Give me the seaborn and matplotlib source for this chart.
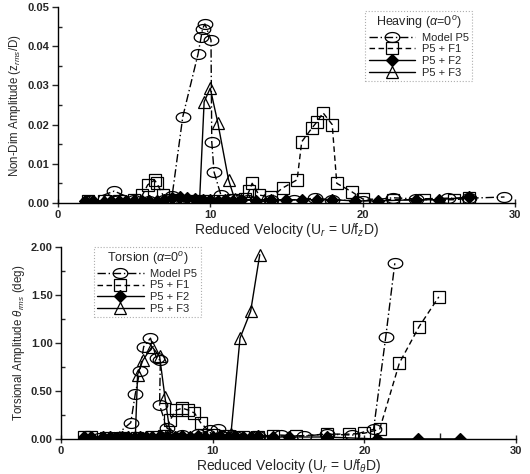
import matplotlib
matplotlib.use("Agg")
import matplotlib.pyplot as plt
import seaborn as sns
import numpy as np
from matplotlib.ticker import MultipleLocator, FormatStrFormatter

# ---------------- data: heaving (top) ----------------
heave_p5_x = [2.0, 3.7, 5.0, 6.0, 7.0, 7.5, 8.2, 9.2, 9.4, 9.5, 9.65, 10.05, 10.1, 10.25, 10.7, 11.5,
              12.5, 14.0, 15.5, 16.9, 18.0, 20.0, 22.0, 23.5, 25.6, 27.0, 29.3]
heave_p5_y = [0.0005, 0.003, 0.0008, 0.0006, 0.0008, 0.0018, 0.022, 0.038, 0.0423, 0.0445, 0.0457, 0.0416,
              0.0156, 0.0079, 0.002, 0.001, 0.0008, 0.0008, 0.0008, 0.0012, 0.0008, 0.0005, 0.0013, 0.001,
              0.0012, 0.0012, 0.0015]

heave_f1_x = [2.0, 3.0, 4.0, 5.0, 5.55, 5.9, 6.35, 6.5, 6.9, 7.5, 8.5, 9.5, 10.5, 11.5, 12.3, 12.55, 12.75,
              13.2, 14.0, 14.75, 15.7, 16.0, 16.65, 17.0, 17.4, 18.0, 18.3, 19.3, 20.0, 22.0, 24.0, 26.0, 27.0]
heave_f1_y = [0.0005, 0.0005, 0.0006, 0.0008, 0.002, 0.0046, 0.0058, 0.005, 0.002, 0.0008, 0.0006, 0.0005,
              0.0006, 0.0008, 0.001, 0.003, 0.005, 0.002, 0.0015, 0.0038, 0.0059, 0.0156, 0.019, 0.0207,
              0.023, 0.020, 0.005, 0.0028, 0.001, 0.0008, 0.0008, 0.0008, 0.0012]

heave_f2_x = [1.8, 2.3, 3.0, 3.5, 4.0, 4.5, 5.0, 5.5, 6.0, 6.5, 7.0, 7.5, 8.0, 8.5, 9.0, 9.5, 10.0, 10.5,
              11.0, 11.5, 12.0, 13.0, 14.0, 15.0, 16.0, 17.0, 18.0, 19.5, 21.0, 23.5, 25.0, 27.0]
heave_f2_y = [0.0005, 0.0004, 0.0003, 0.0005, 0.0004, 0.0005, 0.0004, 0.0005, 0.0006, 0.0005, 0.0008,
              0.0012, 0.0015, 0.0012, 0.001, 0.0008, 0.0008, 0.0006, 0.0008, 0.0006, 0.0008, 0.0006,
              0.0008, 0.0007, 0.0008, 0.0008, 0.0008, 0.0005, 0.0005, 0.0008, 0.0008, 0.0015]

heave_f3_x = [2.0, 3.0, 4.0, 5.0, 6.0, 7.0, 8.0, 9.0, 9.3, 9.6, 10.0, 10.5, 11.2, 11.6, 12.5, 13.5, 15.0]
heave_f3_y = [0.0005, 0.0004, 0.0005, 0.0004, 0.0005, 0.0005, 0.0006, 0.0005, 0.0005, 0.0258, 0.0293,
              0.0204, 0.0059, 0.001, 0.0008, 0.0008, 0.0008]

# ---------------- data: torsion (bottom) ----------------
tors_p5_x = [2.5, 3.5, 4.6, 4.9, 5.2, 5.45, 5.9, 6.3, 6.55, 6.5, 7.0, 8.0, 9.0, 9.8, 10.35, 11.5, 13.0,
             14.5, 16.0, 17.5, 19.2, 20.6, 21.4, 22.0]
tors_p5_y = [0.01, 0.02, 0.17, 0.47, 0.71, 0.96, 1.05, 0.84, 0.82, 0.35, 0.11, 0.04, 0.05, 0.09, 0.10,
             0.03, 0.03, 0.04, 0.03, 0.05, 0.04, 0.10, 1.06, 1.83]

tors_f1_x = [1.5, 2.0, 3.0, 4.0, 5.0, 6.0, 6.8, 7.2, 7.6, 8.0, 8.4, 8.8, 9.2, 10.0, 11.0, 12.0, 13.0, 14.0,
             15.5, 17.5, 19.0, 20.0, 21.0, 22.3, 23.6, 24.9]
tors_f1_y = [0.02, 0.02, 0.01, 0.01, 0.01, 0.02, 0.03, 0.20, 0.30, 0.32, 0.30, 0.27, 0.17, 0.04, 0.03,
             0.02, 0.02, 0.03, 0.03, 0.05, 0.05, 0.06, 0.10, 0.79, 1.17, 1.48]

tors_f2_x = [1.5, 2.0, 2.8, 3.2, 3.6, 4.0, 4.4, 4.8, 5.2, 5.6, 6.0, 6.5, 7.0, 7.5, 8.0, 8.5, 9.0, 9.5,
             10.0, 10.5, 11.0, 11.5, 12.0, 12.5, 13.0, 14.0, 15.0, 17.5, 20.8, 23.5, 26.3]
tors_f2_y = [0.02, 0.02, 0.02, 0.02, 0.01, 0.02, 0.02, 0.01, 0.02, 0.02, 0.02, 0.03, 0.02, 0.02, 0.03,
             0.02, 0.03, 0.02, 0.02, 0.03, 0.02, 0.03, 0.02, 0.02, 0.03, 0.02, 0.02, 0.02, 0.0, 0.0, 0.0]

tors_f3_x = [2.8, 3.5, 4.2, 4.9, 5.05, 5.4, 6.0, 6.5, 6.85, 7.2, 8.0, 9.0, 10.0, 10.5, 11.2, 11.8, 12.5, 13.1]
tors_f3_y = [0.01, 0.01, 0.01, 0.02, 0.67, 0.82, 0.96, 0.86, 0.44, 0.05, 0.03, 0.02, 0.02, 0.03, 0.05,
             1.05, 1.33, 1.92]

labels = ["Model P5", "P5 + F1", "P5 + F2", "P5 + F3"]

sns.set_style("white")
plt.rcParams['font.family'] = ['Liberation Sans', 'DejaVu Sans']
plt.rcParams['mathtext.fontset'] = 'custom'
plt.rcParams['mathtext.rm'] = 'Liberation Sans'
plt.rcParams['mathtext.it'] = 'Liberation Sans:italic'

fig = plt.figure(figsize=(5.3, 4.74), dpi=100)
ax1 = fig.add_axes([0.109, 0.572, 0.863, 0.413])
ax2 = fig.add_axes([0.115, 0.074, 0.859, 0.405])

_t = np.linspace(0, 2 * np.pi, 41)
ellipse = list(zip(np.cos(_t), 0.68 * np.sin(_t)))

styles = [
    dict(marker=ellipse, linestyle=(0, (6, 2, 1, 2)), mfc='none', ms=10.5),
    dict(marker='s', linestyle=(0, (4, 2.5)), mfc='none', ms=8),
    dict(marker='D', linestyle='-', mfc='black', ms=6),
    dict(marker='^', linestyle='-', mfc='none', ms=9),
]

def draw(ax, series):
    for (xs, ys), lab, st in zip(series, labels, styles):
        sns.lineplot(x=xs, y=ys, ax=ax, sort=False, estimator=None, color='black', lw=1.0,
                     mec='black', mew=0.9, label=lab, **st)

draw(ax1, [(heave_p5_x, heave_p5_y), (heave_f1_x, heave_f1_y),
           (heave_f2_x, heave_f2_y), (heave_f3_x, heave_f3_y)])
draw(ax2, [(tors_p5_x, tors_p5_y), (tors_f1_x, tors_f1_y),
           (tors_f2_x, tors_f2_y), (tors_f3_x, tors_f3_y)])

ax1.set_ylim(0, 0.05)
ax1.yaxis.set_major_locator(MultipleLocator(0.01))
ax1.yaxis.set_minor_locator(MultipleLocator(0.005))
ax1.yaxis.set_major_formatter(FormatStrFormatter('%.2f'))
ax2.set_ylim(0, 2.0)
ax2.yaxis.set_major_locator(MultipleLocator(0.5))
ax2.yaxis.set_minor_locator(MultipleLocator(0.25))
ax2.yaxis.set_major_formatter(FormatStrFormatter('%.2f'))

for ax in (ax1, ax2):
    ax.set_xlim(0, 30)
    ax.xaxis.set_major_locator(MultipleLocator(10))
    ax.xaxis.set_minor_locator(MultipleLocator(5))
    for s in ('top', 'right'):
        ax.spines[s].set_visible(False)
    for s in ('left', 'bottom'):
        ax.spines[s].set_color('black')
        ax.spines[s].set_linewidth(1.0)
    ax.tick_params(axis='x', which='major', direction='inout', length=6, width=1, labelsize=8, pad=2)
    ax.tick_params(axis='x', which='minor', direction='in', length=4, width=1)
    ax.tick_params(axis='y', which='major', direction='out', length=4, width=1, labelsize=8, pad=2)
    ax.tick_params(axis='y', which='minor', direction='in', length=3, width=1)
    ax.tick_params(bottom=True, left=True, which='both')
    for t in ax.get_xticklabels() + ax.get_yticklabels():
        t.set_fontweight('bold')

ax1.set_xlabel(r"Reduced Velocity (U$_r$ = U/f$_z$D)", fontsize=10, labelpad=1)
ax2.set_xlabel(r"Reduced Velocity (U$_r$ = U/f$_\theta$D)", fontsize=10, labelpad=1)
ax1.set_ylabel(r"Non-Dim Amplitude (z$_{rms}$/D)", fontsize=8.3, labelpad=3)
ax2.set_ylabel(r"Torsional Amplitude $\theta_{rms}$ (deg)", fontsize=8.3, labelpad=3)

def legend(ax, title, loc, anchor):
    lg = ax.legend(title=title, loc=loc, bbox_to_anchor=anchor, fontsize=8, title_fontsize=9,
                   handlelength=4.2, handletextpad=0.6, labelspacing=0.15, borderpad=0.3,
                   frameon=True, fancybox=False)
    fr = lg.get_frame()
    fr.set_edgecolor('#999999')
    fr.set_linestyle(':')
    fr.set_linewidth(0.8)
    return lg

legend(ax1, r"Heaving ($\alpha$=0$^o$)", 'upper left', (0.66, 1.01))
legend(ax2, r"Torsion ($\alpha$=0$^o$)", 'upper left', (0.06, 1.03))

fig.savefig("out.png", dpi=100)
